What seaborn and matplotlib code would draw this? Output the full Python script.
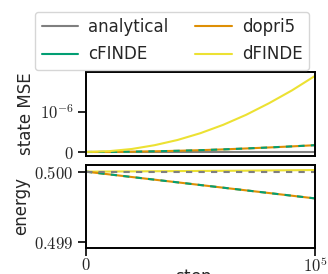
"""
Energy / state error of an integrated system over steps
"""

import numpy as np
import pandas as pd
import matplotlib
matplotlib.use('Agg')
import matplotlib.pyplot as plt
from matplotlib.lines import Line2D
import seaborn as sns

# Data
steps = [0, 10000, 20000, 30000, 40000, 50000, 60000, 70000, 80000, 90000, 100000]

mse_analytical = [0.0] * 11
mse_dopri5 = [0.0, 0.002e-6, 0.008e-6, 0.017e-6, 0.03e-6, 0.045e-6,
              0.065e-6, 0.088e-6, 0.113e-6, 0.14e-6, 0.17e-6]
mse_cfinde = [0.0, 0.002e-6, 0.008e-6, 0.017e-6, 0.03e-6, 0.045e-6,
              0.065e-6, 0.088e-6, 0.113e-6, 0.14e-6, 0.17e-6]
mse_dfinde = [0.0, 0.02e-6, 0.075e-6, 0.17e-6, 0.3e-6, 0.47e-6,
              0.68e-6, 0.93e-6, 1.22e-6, 1.54e-6, 1.9e-6]

energy_analytical = [0.5] * 11
energy_dopri5 = [0.5, 0.499962, 0.499924, 0.499886, 0.499848, 0.49981,
                 0.499772, 0.499734, 0.499696, 0.499658, 0.49962]
energy_cfinde = [0.5, 0.499962, 0.499924, 0.499886, 0.499848, 0.49981,
                 0.499772, 0.499734, 0.499696, 0.499658, 0.49962]
energy_dfinde = [0.5, 0.500002, 0.500004, 0.500006, 0.500008, 0.50001,
                 0.500012, 0.500014, 0.500017, 0.50002, 0.500023]

legend_labels = ['analytical', 'cFINDE', 'dopri5', 'dFINDE']

sns.set_theme(style='ticks')
plt.rcParams['font.family'] = ['DejaVu Sans']
plt.rcParams['mathtext.fontset'] = 'cm'
plt.rcParams['font.size'] = 12

pal = sns.color_palette('colorblind')
c_analytical = '#7f7f7f'
c_dopri5 = pal[1]
c_cfinde = pal[2]
c_dfinde = pal[8]
colors = [c_analytical, c_cfinde, c_dopri5, c_dfinde]

fig = plt.figure(figsize=(3.28, 2.74), dpi=100)
ax1 = fig.add_axes([0.262, 0.4307, 0.698, 0.3066])
ax2 = fig.add_axes([0.262, 0.0949, 0.698, 0.303])

lw = 1.5
dash = (0, (3, 3))
# top: state MSE
sns.lineplot(x=steps, y=mse_analytical, ax=ax1, color=c_analytical, lw=lw)
sns.lineplot(x=steps, y=mse_dopri5, ax=ax1, color=c_dopri5, lw=lw)
sns.lineplot(x=steps, y=mse_cfinde, ax=ax1, color=c_cfinde, lw=lw, linestyle=dash)
sns.lineplot(x=steps, y=mse_dfinde, ax=ax1, color=c_dfinde, lw=lw)

# bottom: energy
sns.lineplot(x=steps, y=energy_dfinde, ax=ax2, color=c_dfinde, lw=lw)
sns.lineplot(x=steps, y=energy_dopri5, ax=ax2, color=c_dopri5, lw=lw)
sns.lineplot(x=steps, y=energy_cfinde, ax=ax2, color=c_cfinde, lw=lw, linestyle=dash)
sns.lineplot(x=steps, y=energy_analytical, ax=ax2, color=c_analytical, lw=lw, linestyle=dash)

for ax in (ax1, ax2):
    ax.set_xlim(0, 100000)
    ax.tick_params(direction='out', length=6, width=1.4, labelsize=12, pad=3)
    for s in ax.spines.values():
        s.set_linewidth(1.4)
        s.set_color('black')

ax1.set_ylim(-0.1e-6, 2.0e-6)
ax1.set_yticks([0, 1e-6])
ax1.set_yticklabels([r'$0$', r'$10^{-6}$'])
ax1.set_xticks([])
ax1.set_ylabel('state MSE', fontsize=12, labelpad=3)

ax2.set_ylim(0.498915, 0.500095)
ax2.set_yticks([0.499, 0.5])
ax2.set_yticklabels([r'$0.499$', r'$0.500$'])
ax2.set_xticks([0, 100000])
ax2.set_xticklabels([r'$0$', r'$10^5$'])
ax2.tick_params(axis='x', pad=0)
ax2.set_ylabel('energy', fontsize=12, labelpad=3)
ax2.set_xlabel(r'step $s$', fontsize=12, labelpad=-6)

handles = [Line2D([], [], color=c, lw=lw) for c in colors]
fig.legend(handles, legend_labels, ncol=2,
           loc='upper right', bbox_to_anchor=(0.968, 0.988), handlelength=2.2,
           columnspacing=1.6, handletextpad=0.6, labelspacing=0.55, fontsize=12)

fig.align_ylabels([ax1, ax2])
fig.savefig('out.png', dpi=100)
